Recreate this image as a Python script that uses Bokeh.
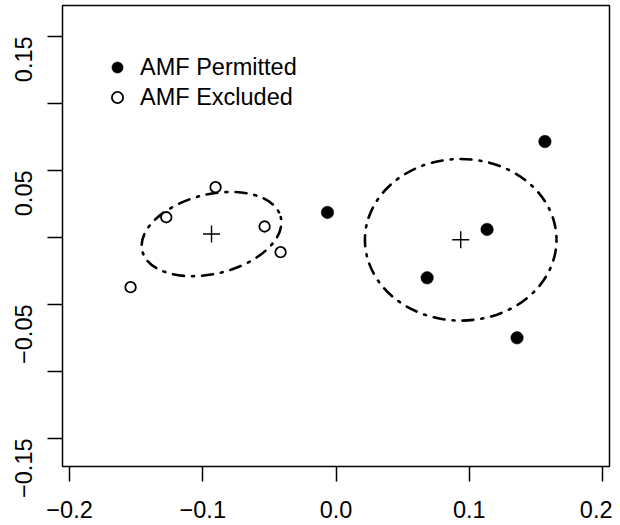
import math
import numpy as np
from bokeh.plotting import figure
from bokeh.models import ColumnDataSource, Legend, LegendItem, FixedTicker, Range1d
from bokeh.embed import file_html
from bokeh.resources import INLINE

# ---- data ----
permitted_x = [-0.0064, 0.1134, 0.0684, 0.1568, 0.1359]
permitted_y = [0.0187, 0.0060, -0.0301, 0.0716, -0.0749]
excluded_x = [-0.0904, -0.1274, -0.0536, -0.0416, -0.1542]
excluded_y = [0.0375, 0.0151, 0.0082, -0.0110, -0.0371]

# ellipse parameters per group: full width, full height (data units), angle (degrees)
groups = ["AMF Permitted", "AMF Excluded"]
ellipse_width = [0.1438, 0.1070]
ellipse_height = [0.1206, 0.0592]
ellipse_angle_deg = [0.0, 13.8]

x_ticks = [-0.2, -0.1, 0.0, 0.1, 0.2]
x_tick_labels = ["\u22120.2", "\u22120.1", "0.0", "0.1", "0.2"]
y_ticks = [0.15, 0.10, 0.05, 0.0, -0.05, -0.10, -0.15]
y_tick_labels = ["0.15", "", "0.05", "", "\u22120.05", "", "\u22120.15"]

FONT = "Liberation Sans"
FS = "23.5px"

p = figure(width=612, height=525, output_backend="svg", toolbar_location=None,
           x_range=Range1d(-0.2053, 0.2053), y_range=Range1d(-0.1709, 0.1731),
           min_border_left=62, min_border_right=3, min_border_top=5, min_border_bottom=59)
p.grid.visible = False
p.outline_line_color = "black"
p.outline_line_width = 1.5
p.background_fill_color = "white"
p.border_fill_color = "white"

# centroids from data
cx = [float(np.mean(permitted_x)), float(np.mean(excluded_x))]
cy = [float(np.mean(permitted_y)), float(np.mean(excluded_y))]

ell = ColumnDataSource(dict(x=cx, y=cy, w=ellipse_width, h=ellipse_height,
                            a=[math.radians(v) for v in ellipse_angle_deg]))
p.ellipse(x="x", y="y", width="w", height="h", angle="a", source=ell,
          fill_color=None, line_color="black", line_width=2.6,
          line_dash="2 8 11 8", line_cap="round")

p.scatter(x=cx, y=cy, marker="cross", size=17, line_color="black", line_width=1.4)

r_perm = p.scatter(x=permitted_x, y=permitted_y, marker="circle", size=12.5,
                   fill_color="black", line_color="black", line_width=0.5)
r_excl = p.scatter(x=excluded_x, y=excluded_y, marker="circle", size=10.5,
                   fill_color="white", line_color="black", line_width=1.8)

legend = Legend(items=[LegendItem(label=groups[0], renderers=[r_perm]),
                       LegendItem(label=groups[1], renderers=[r_excl])],
                location=(40, 355), margin=0, padding=0, spacing=2,
                glyph_width=30, glyph_height=28, label_height=28, label_standoff=8,
                label_text_font=FONT, label_text_font_size=FS, label_text_color="black",
                border_line_alpha=0, background_fill_alpha=0)
p.add_layout(legend)

for ax in (p.xaxis[0], p.yaxis[0]):
    ax.axis_line_color = None
    ax.major_tick_in = 0
    ax.major_tick_out = 15
    ax.major_tick_line_width = 1.5
    ax.major_tick_line_color = "black"
    ax.minor_tick_line_color = None
    ax.major_label_text_font = FONT
    ax.major_label_text_font_size = FS
    ax.major_label_text_color = "black"

p.xaxis[0].ticker = FixedTicker(ticks=x_ticks)
p.xaxis[0].major_label_overrides = {t: l for t, l in zip(x_ticks, x_tick_labels)}
p.xaxis[0].major_label_standoff = 19
p.yaxis[0].ticker = FixedTicker(ticks=y_ticks)
p.yaxis[0].major_label_overrides = {t: l for t, l in zip(y_ticks, y_tick_labels)}
p.yaxis[0].major_label_orientation = math.pi / 2
p.yaxis[0].major_label_standoff = 24

open("out.html", "w").write(file_html(p, INLINE))
